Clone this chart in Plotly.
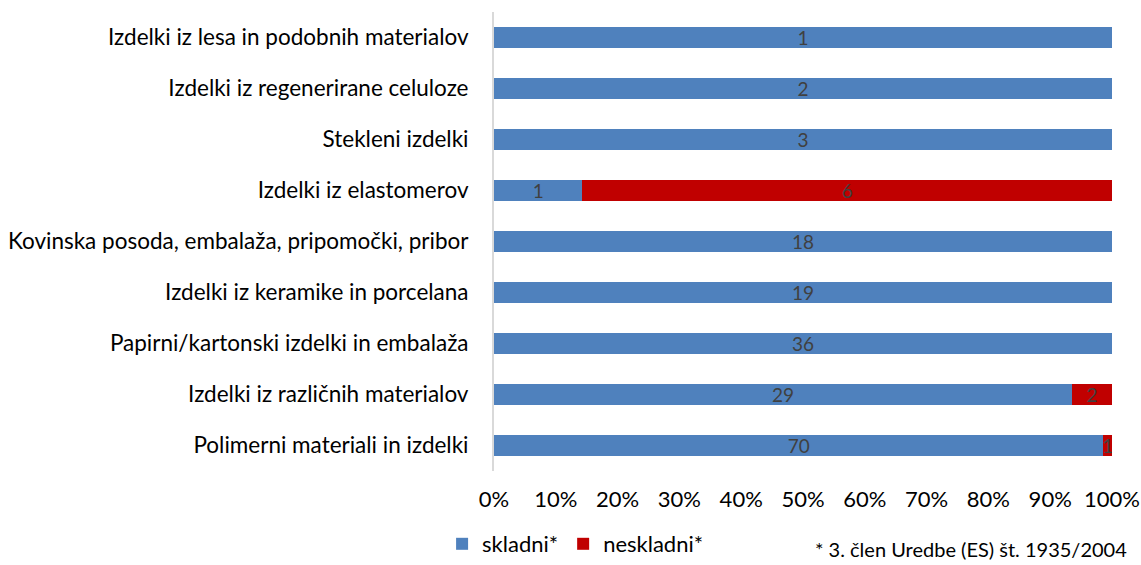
import plotly.graph_objects as go

# Categories, top to bottom as drawn
categories = [
    "Izdelki iz lesa in podobnih materialov",
    "Izdelki iz regenerirane celuloze",
    "Stekleni izdelki",
    "Izdelki iz elastomerov",
    "Kovinska posoda, embalaža, pripomočki, pribor",
    "Izdelki iz keramike in porcelana",
    "Papirni/kartonski izdelki in embalaža",
    "Izdelki iz različnih materialov",
    "Polimerni materiali in izdelki",
]
skladni = [1, 2, 3, 1, 18, 19, 36, 29, 70]
neskladni = [0, 0, 0, 6, 0, 0, 0, 2, 1]

tick_vals = [0, 10, 20, 30, 40, 50, 60, 70, 80, 90, 100]
tick_text = [f"{v}%" for v in tick_vals]

FONT = "Lato, 'Open Sans', sans-serif"
LABEL_COLOR = "#404040"


def labels(values):
    return [str(v) if v else "" for v in values]


fig = go.Figure()
for name, values, color in [("skladni*", skladni, "#4f81bd"),
                            ("neskladni*", neskladni, "#c00000")]:
    fig.add_trace(go.Bar(
        y=categories, x=values, name=name, orientation="h",
        marker=dict(color=color, line=dict(width=0)),
        text=labels(values), textposition="inside", insidetextanchor="middle",
        textangle=0,
        textfont=dict(color=LABEL_COLOR, size=19, family=FONT),
        constraintext="none", hoverinfo="skip",
    ))

fig.update_layout(
    width=1141, height=565,
    barmode="stack", barnorm="percent", bargap=0.59,
    plot_bgcolor="white", paper_bgcolor="white",
    font=dict(family=FONT, size=22, color="black"),
    margin=dict(l=494, r=29, t=12, b=94, autoexpand=False),
    showlegend=True,
    legend=dict(
        orientation="h", x=-0.084, xanchor="left",
        yref="container", y=-0.008, yanchor="bottom",
        font=dict(size=22, color="black"), traceorder="normal",
        itemwidth=30,
    ),
)
fig.update_xaxes(
    range=[0, 100], tickvals=tick_vals, ticktext=tick_text,
    showgrid=False, zeroline=False, showline=False,
    ticks="", ticklabelstandoff=13, automargin=False,
    tickfont=dict(size=22, color="black"), fixedrange=True,
)
fig.update_yaxes(
    categoryorder="array", categoryarray=categories, autorange="reversed",
    showgrid=False, zeroline=False,
    showline=True, linecolor="#d9d9d9", linewidth=2,
    ticks="", ticklabelstandoff=19, automargin=False,
    tickfont=dict(size=22.5, color="black"), fixedrange=True,
)
fig.add_annotation(
    text="* 3. člen Uredbe (ES) št. 1935/2004",
    xref="paper", yref="paper", x=1.027, y=-0.17,
    xanchor="right", yanchor="middle", showarrow=False,
    font=dict(size=20, color="black", family=FONT),
)

fig.write_html("out.html")
